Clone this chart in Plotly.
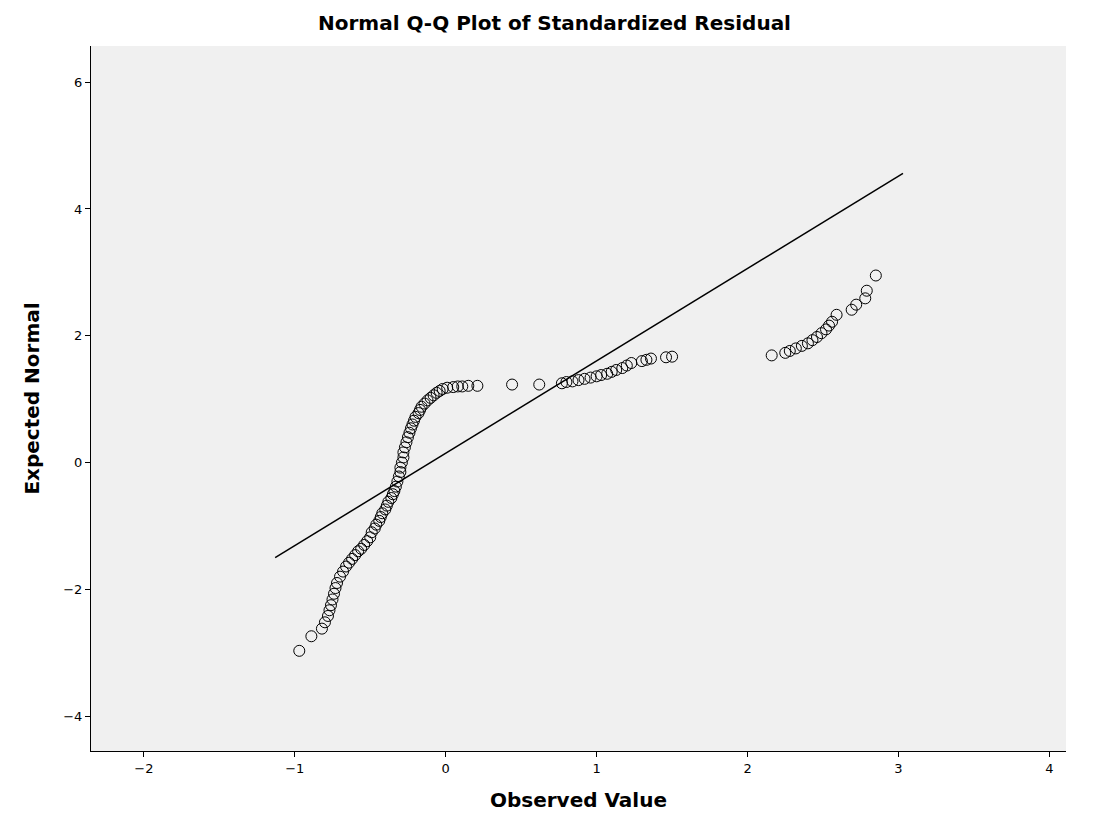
import plotly.graph_objects as go

# Q-Q points (observed standardized residual, expected normal value)
observed = [
    -0.97, -0.89, -0.82, -0.80, -0.78, -0.77, -0.76, -0.75, -0.74, -0.73, -0.72,
    -0.70, -0.68, -0.66, -0.64, -0.62, -0.60, -0.58, -0.56, -0.54, -0.52, -0.50,
    -0.49, -0.47, -0.46, -0.44, -0.43, -0.42, -0.40, -0.39, -0.38, -0.36, -0.35,
    -0.34, -0.33, -0.32, -0.31, -0.30, -0.30, -0.29, -0.28, -0.28, -0.27, -0.26,
    -0.25, -0.24, -0.23, -0.22, -0.21, -0.20, -0.18, -0.17, -0.16, -0.14, -0.12,
    -0.10, -0.08, -0.06, -0.04, -0.02, 0.01, 0.05, 0.08, 0.11, 0.15, 0.21,
    0.44, 0.62, 0.77, 0.80, 0.84, 0.88, 0.92, 0.96, 1.00, 1.03, 1.07, 1.10,
    1.13, 1.17, 1.20, 1.23, 1.30, 1.33, 1.36, 1.46, 1.50,
    2.16, 2.25, 2.28, 2.32, 2.36, 2.40, 2.43, 2.46, 2.49, 2.52, 2.54, 2.56,
    2.59, 2.69, 2.72, 2.78, 2.79, 2.85,
]
expected = [
    -2.97, -2.74, -2.62, -2.52, -2.42, -2.33, -2.25, -2.16, -2.07, -1.98, -1.90,
    -1.80, -1.72, -1.64, -1.58, -1.52, -1.46, -1.40, -1.36, -1.30, -1.24, -1.18,
    -1.10, -1.04, -0.98, -0.92, -0.86, -0.80, -0.74, -0.68, -0.62, -0.56, -0.50,
    -0.45, -0.38, -0.30, -0.22, -0.15, -0.08, 0.00, 0.08, 0.16, 0.24, 0.32,
    0.40, 0.47, 0.54, 0.60, 0.66, 0.72, 0.78, 0.83, 0.88, 0.93, 0.98,
    1.02, 1.06, 1.10, 1.13, 1.16, 1.18, 1.19, 1.20, 1.20, 1.21, 1.21,
    1.23, 1.23, 1.25, 1.27, 1.28, 1.30, 1.32, 1.34, 1.36, 1.38, 1.40, 1.43,
    1.46, 1.49, 1.53, 1.57, 1.60, 1.62, 1.64, 1.66, 1.67,
    1.69, 1.73, 1.76, 1.80, 1.84, 1.88, 1.93, 1.98, 2.04, 2.10, 2.16, 2.22,
    2.33, 2.41, 2.49, 2.59, 2.71, 2.95,
]
line_x = [-1.13, 3.03]
line_y = [-1.50, 4.56]

fig = go.Figure()
fig.add_trace(go.Scatter(
    x=line_x, y=line_y, mode="lines",
    line=dict(color="black", width=1.5), hoverinfo="skip",
))
fig.add_trace(go.Scatter(
    x=observed, y=expected, mode="markers",
    marker=dict(symbol="circle-open", size=11, color="black", line=dict(width=1)),
))

fig.update_layout(
    width=1093, height=830, showlegend=False,
    paper_bgcolor="white", plot_bgcolor="#f0f0f0",
    margin=dict(l=83, r=35, t=38, b=87),
    font=dict(family="DejaVu Sans", size=13, color="black"),
    title=dict(text="<b>Normal Q-Q Plot of Standardized Residual</b>",
               x=0.5, xanchor="center", y=0.99, yanchor="top",
               font=dict(size=20)),
)
fig.update_xaxes(
    range=[-2.35, 4.11], tickvals=[-2, -1, 0, 1, 2, 3, 4],
    showgrid=False, zeroline=False, showline=True, linecolor="black",
    ticks="outside", ticklen=5, tickcolor="black",
    title=dict(text="<b>Observed Value</b>", font=dict(size=20), standoff=18),
)
fig.update_yaxes(
    range=[-4.55, 6.57], tickvals=[-4, -2, 0, 2, 4, 6],
    showgrid=False, zeroline=False, showline=True, linecolor="black",
    ticks="outside", ticklen=5, tickcolor="black",
    title=dict(text="<b>Expected Normal</b>", font=dict(size=20), standoff=18),
)

fig.write_html("out.html")
